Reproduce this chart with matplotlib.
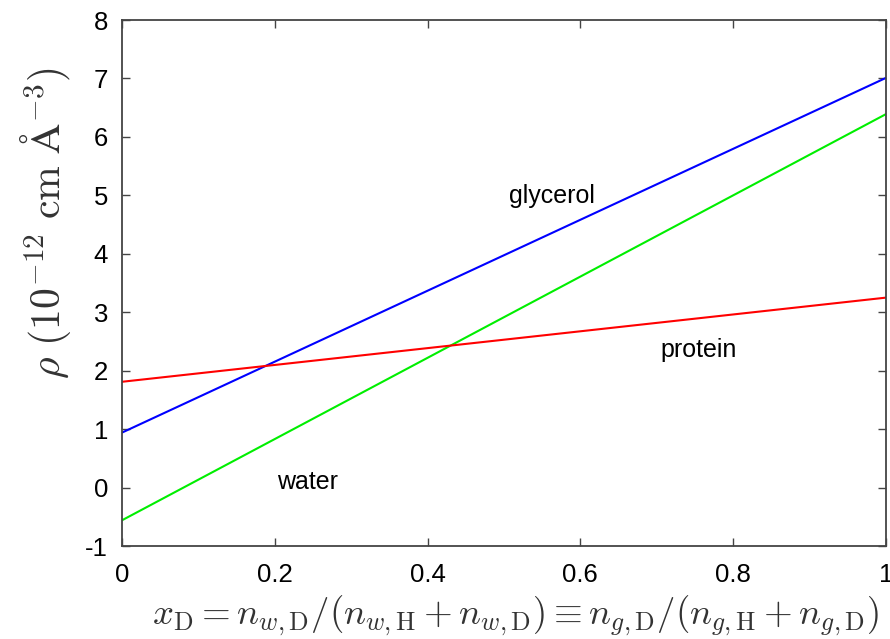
import matplotlib
matplotlib.use("Agg")
import matplotlib.pyplot as plt

# densidade de comprimento de espalhamento vs fracao de deuterio
x_frac = [0.0, 1.0]
rho_glicerol = [0.94, 7.01]
rho_agua = [-0.56, 6.39]
rho_proteina = [1.81, 3.25]

rotulos = ['glycerol', 'protein', 'water']
rotulo_x = [0.563, 0.755, 0.243]
rotulo_y = [4.99, 2.36, 0.10]

plt.rcParams['font.family'] = ['Liberation Sans', 'DejaVu Sans']
plt.rcParams['mathtext.fontset'] = 'cm'
plt.rcParams['axes.unicode_minus'] = False

fig = plt.figure(figsize=(8.9, 6.39), dpi=100)
ax = fig.add_axes([0.137, 0.1455, 0.8585, 0.8232])

ax.plot(x_frac, rho_glicerol, color='#0000ff', lw=1.5)
ax.plot(x_frac, rho_agua, color='#00ee00', lw=1.5)
ax.plot(x_frac, rho_proteina, color='#ff0000', lw=1.5)

for t, xx, yy in zip(rotulos, rotulo_x, rotulo_y):
    ax.text(xx, yy, t, fontsize=18, ha='center', va='center')

ax.set_xlim(0, 1)
ax.set_ylim(-1, 8)
ax.set_xticks([0, 0.2, 0.4, 0.6, 0.8, 1])
ax.set_xticklabels(['0', '0.2', '0.4', '0.6', '0.8', '1'])
ax.set_yticks(range(-1, 9))

for s in ax.spines.values():
    s.set_color('#444444')
    s.set_linewidth(1.3)
ax.tick_params(direction='in', length=6, width=1, color='#444444',
               top=True, right=True, labelsize=18.5)
ax.tick_params(axis='x', pad=12)
ax.tick_params(axis='y', pad=10)

# rotulo do eixo y, um pouco acima do centro
fig.text(0.051, 0.65, r'$\rho\ (10^{-12}\ \mathrm{cm}\ \mathrm{\AA}^{-3})$',
         fontsize=30, color='#333333', rotation=90, ha='center', va='center')

# rotulo do eixo x com fundo branco por cima dos numeros
fig.text(0.579, 0.036,
         r'$x_{\mathrm{D}} = n_{w,\mathrm{D}}/(n_{w,\mathrm{H}} + n_{w,\mathrm{D}}) \equiv n_{g,\mathrm{D}}/(n_{g,\mathrm{H}} + n_{g,\mathrm{D}})$',
         fontsize=26.5, color='#333333', ha='center', va='center',
         bbox=dict(facecolor='white', edgecolor='none', pad=6))

fig.savefig('out.png', dpi=100)
